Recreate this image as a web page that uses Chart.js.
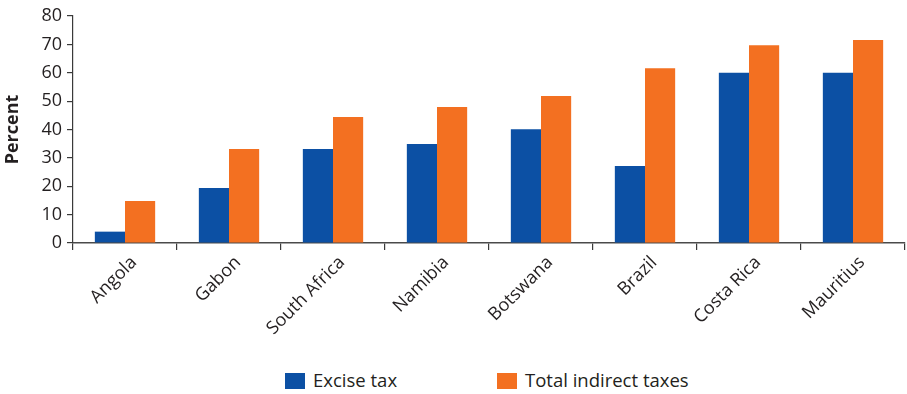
<!DOCTYPE html>
<html>
<head>
<meta charset="utf-8">
<script src="https://cdn.jsdelivr.net/npm/chart.js@4/dist/chart.umd.min.js"></script>
<style>
  html, body { margin: 0; padding: 0; background: #fff; }
  #wrap { position: relative; width: 907px; height: 394px; }
  #box { position: absolute; left: 0; top: 0; width: 907px; height: 352px; }
  .legend { position: absolute; top: 367px; left: 0; width: 907px; font: 18.5px "Open Sans", sans-serif; color: #231f20; }
  .legend span.item { position: absolute; top: 0; white-space: nowrap; }
  .legend i { display: inline-block; width: 20px; height: 16px; vertical-align: -2px; margin-right: 8px; }
</style>
</head>
<body>
<div id="wrap">
  <div id="box"><canvas id="chart"></canvas></div>
  <div class="legend" id="legend"></div>
</div>
<script>
// datos
const countries = ["Angola", "Gabon", "South Africa", "Namibia", "Botswana", "Brazil", "Costa Rica", "Mauritius"];
const exciseTax = [4, 19.4, 33.1, 34.9, 40.1, 27.1, 60, 60];
const totalIndirect = [14.8, 33.1, 44.4, 47.9, 51.8, 61.6, 69.7, 71.5];
const seriesNames = ["Excise tax", "Total indirect taxes"];
const yTicks = [0, 10, 20, 30, 40, 50, 60, 70, 80];

const BLUE = "#0c50a4";
const ORANGE = "#f37021";
const TEXT = "#231f20";
const FONT = "'Open Sans', sans-serif";

const ctx = document.getElementById("chart").getContext("2d");
const chart = new Chart(ctx, {
  type: "bar",
  data: {
    labels: countries,
    datasets: [
      { label: seriesNames[0], data: exciseTax, backgroundColor: BLUE },
      { label: seriesNames[1], data: totalIndirect, backgroundColor: ORANGE },
    ],
  },
  options: {
    responsive: true,
    maintainAspectRatio: false,
    animation: false,
    layout: { padding: { top: 16, right: 2, left: 0, bottom: 0 } },
    datasets: { bar: { categoryPercentage: 0.58, barPercentage: 1 } },
    plugins: { legend: { display: false }, tooltip: { enabled: false } },
    scales: {
      x: {
        grid: { offset: true, drawOnChartArea: false, drawTicks: true, tickLength: 7, color: "#3a3a3a", lineWidth: 1.2 },
        border: { color: "#4a4a4a", width: 1.6 },
        ticks: { color: TEXT, font: { family: FONT, size: 18 }, minRotation: 45, maxRotation: 45, padding: 2, labelOffset: 9 },
        afterFit: (scale) => { scale.height = 352 - 243; },
      },
      y: {
        min: 0,
        max: 80,
        afterBuildTicks: (scale) => { scale.ticks = yTicks.map((v) => ({ value: v })); },
        grid: { drawOnChartArea: false, drawTicks: true, tickLength: 6, color: "#3a3a3a", lineWidth: 1.2 },
        border: { color: "#3a3a3a", width: 1.2 },
        ticks: { color: TEXT, font: { family: FONT, size: 18 }, padding: 5 },
        title: { display: true, text: "Percent", color: TEXT, font: { family: FONT, size: 18, weight: "bold" }, padding: { top: 2, bottom: 4 } },
        afterFit: (scale) => { scale.width = 73; },
      },
    },
  },
});

// leyenda en HTML
const legend = document.getElementById("legend");
const legendX = [285, 497];
[BLUE, ORANGE].forEach((c, i) => {
  const item = document.createElement("span");
  item.className = "item";
  item.style.left = legendX[i] + "px";
  item.innerHTML = `<i style="background:${c}"></i>${seriesNames[i]}`;
  legend.appendChild(item);
});
</script>
</body>
</html>
